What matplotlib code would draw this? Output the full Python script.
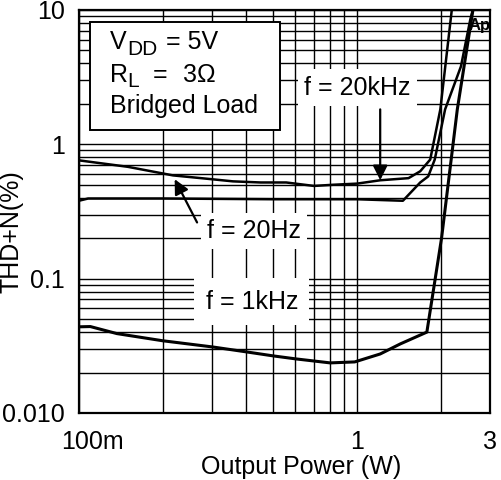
import numpy as np
import matplotlib
matplotlib.use('Agg')
import matplotlib.pyplot as plt
from matplotlib.patches import Rectangle
from matplotlib.ticker import LogLocator, NullFormatter

plt.rcParams['font.family'] = ['Liberation Sans', 'DejaVu Sans']

# THD+N vs output power
p_20hz = [0.1, 0.15, 0.218, 0.3, 0.358, 0.45, 0.556, 0.7, 0.82, 1.0, 1.21, 1.53, 1.685, 1.83, 1.99, 2.19]
thd_20hz = [0.76, 0.68, 0.587, 0.55, 0.53, 0.52, 0.52, 0.49, 0.50, 0.51, 0.54, 0.56, 0.63, 0.77, 1.82, 10.2]

p_20khz = [0.1, 0.108, 0.2, 0.5, 1.0, 1.46, 1.685, 1.80, 1.90, 2.07, 2.36, 2.55, 2.61]
thd_20khz = [0.38, 0.395, 0.395, 0.39, 0.39, 0.38, 0.52, 0.577, 0.77, 1.82, 3.8, 8.5, 10.2]

p_1khz = [0.1, 0.11, 0.137, 0.2, 0.303, 0.4, 0.5, 0.6, 0.8, 0.98, 1.21, 1.43, 1.78, 2.01, 2.29, 2.61]
thd_1khz = [0.0438, 0.044, 0.039, 0.0345, 0.031, 0.0285, 0.0266, 0.0253, 0.0236, 0.024, 0.0275,
            0.0327, 0.040, 0.20, 1.82, 10.2]

x_ticks = [0.1, 1, 3]
x_labels = ['', '1', '3']
y_ticks = [0.01, 0.1, 1, 10]
y_labels = ['0.010', '0.1', '1', '10']

fig = plt.figure(figsize=(5.02, 4.80), dpi=100)
ax = fig.add_axes([0.157, 0.1396, 0.819, 0.8396])
ax.set_xscale('log')
ax.set_yscale('log')
ax.set_xlim(0.1, 3)
ax.set_ylim(0.01, 10)

ax.set_axisbelow(True)
ax.xaxis.set_minor_locator(LogLocator(base=10, subs=np.arange(2, 10)))
ax.yaxis.set_minor_locator(LogLocator(base=10, subs=np.arange(2, 10)))
ax.xaxis.set_minor_formatter(NullFormatter())
ax.yaxis.set_minor_formatter(NullFormatter())
ax.grid(True, which='both', color='black', linewidth=1.0)

ax.set_xticks(x_ticks, x_labels)
ax.set_yticks(y_ticks, y_labels)
ax.tick_params(which='both', length=0)
ax.tick_params(axis='x', pad=12, labelsize=18)
ax.tick_params(axis='y', pad=10, labelsize=18)
ax.annotate('100m', xy=(0.1, 0), xycoords=('data', 'axes fraction'),
            xytext=(13.5, -17), textcoords='offset pixels', ha='center', va='top', fontsize=18)

for s in ax.spines.values():
    s.set_linewidth(1.6)

ax.plot(p_20hz, thd_20hz, color='black', lw=1.8, zorder=3)
ax.plot(p_20khz, thd_20khz, color='black', lw=1.8, zorder=3)
ax.plot(p_1khz, thd_1khz, color='black', lw=2.2, zorder=3)

ax.set_xlabel('Output Power (W)', fontsize=18)
ax.set_ylabel('THD+N(%)', fontsize=18)
ax.xaxis.set_label_coords(0.54, -0.104)
ax.yaxis.set_label_coords(-0.134, 0.449)

# conditions box
ax.add_patch(Rectangle((0.027, 0.702), 0.462, 0.268, transform=ax.transAxes,
                       facecolor='white', edgecolor='black', lw=1.4, zorder=5))
tx = dict(transform=ax.transAxes, fontsize=18, va='baseline', zorder=6)
ax.text(0.075, 0.903, 'V', **tx)
ax.text(0.118, 0.888, 'DD', **{**tx, 'fontsize': 15})
ax.text(0.212, 0.903, '= 5V', **tx)
ax.text(0.075, 0.821, 'R', **tx)
ax.text(0.117, 0.808, 'L', **{**tx, 'fontsize': 15})
ax.text(0.180, 0.821, '=', **tx)
ax.text(0.253, 0.821, '3Ω', **tx)
ax.text(0.075, 0.744, 'Bridged Load', **tx)

box = dict(boxstyle='square,pad=0.25', facecolor='white', edgecolor='none')
arrow = dict(arrowstyle='-|>', color='black', lw=1.6, mutation_scale=22, shrinkA=0, shrinkB=0)

ax.text(1.0, 2.64, 'f = 20kHz', fontsize=18, ha='center', va='center', bbox=box, zorder=4)
ax.annotate('', xy=(1.21, 0.54), xytext=(1.21, 1.82), arrowprops=arrow, zorder=4)

ax.text(0.426, 0.226, 'f = 20Hz', fontsize=18, ha='center', va='center', bbox=box, zorder=4)
ax.annotate('', xy=(0.221, 0.55), xytext=(0.266, 0.262), arrowprops=arrow, zorder=4)

ax.text(0.419, 0.0675, 'f = 1kHz', fontsize=18, ha='center', va='center',
        bbox=dict(boxstyle='square,pad=0.45', facecolor='white', edgecolor='none'), zorder=4)

ax.text(0.974, 0.962, 'Ap', transform=ax.transAxes, fontsize=12, fontweight='bold',
        ha='center', va='center', zorder=6)

fig.savefig('out.png', dpi=100)
